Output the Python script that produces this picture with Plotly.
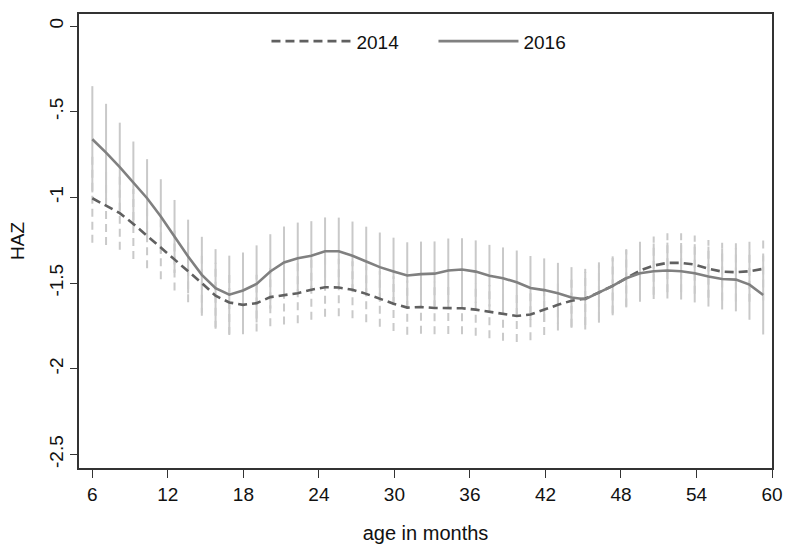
import plotly.graph_objects as go

ages = [6.00, 7.09, 8.18, 9.26, 10.35, 11.44, 12.53, 13.61, 14.70, 15.79,
        16.88, 17.97, 19.05, 20.14, 21.23, 22.32, 23.40, 24.49, 25.58, 26.67,
        27.76, 28.84, 29.93, 31.02, 32.11, 33.19, 34.28, 35.37, 36.46, 37.55,
        38.63, 39.72, 40.81, 41.90, 42.99, 44.07, 45.16, 46.25, 47.34, 48.42,
        49.51, 50.60, 51.69, 52.78, 53.86, 54.95, 56.04, 57.13, 58.21, 59.30]

haz_2014 = [-1.005, -1.050, -1.092, -1.155, -1.224, -1.296, -1.364, -1.432, -1.500, -1.574,
            -1.613, -1.627, -1.617, -1.582, -1.570, -1.559, -1.539, -1.524, -1.526, -1.539,
            -1.563, -1.592, -1.620, -1.643, -1.640, -1.645, -1.645, -1.647, -1.655, -1.667,
            -1.679, -1.692, -1.683, -1.653, -1.627, -1.603, -1.590, -1.555, -1.516, -1.472,
            -1.427, -1.398, -1.382, -1.382, -1.392, -1.417, -1.433, -1.437, -1.431, -1.417]

haz_2016 = [-0.661, -0.739, -0.824, -0.914, -1.005, -1.112, -1.228, -1.345, -1.452, -1.530,
            -1.568, -1.543, -1.505, -1.432, -1.380, -1.355, -1.341, -1.314, -1.314, -1.341,
            -1.374, -1.407, -1.432, -1.456, -1.448, -1.445, -1.427, -1.421, -1.433, -1.457,
            -1.472, -1.495, -1.529, -1.541, -1.560, -1.584, -1.594, -1.555, -1.516, -1.472,
            -1.443, -1.431, -1.427, -1.431, -1.443, -1.462, -1.476, -1.480, -1.509, -1.570]

ci_half_2014 = [0.260, 0.228, 0.214, 0.204, 0.190, 0.182, 0.180, 0.180, 0.190, 0.193,
                0.190, 0.172, 0.165, 0.170, 0.172, 0.175, 0.175, 0.172, 0.168, 0.166,
                0.165, 0.163, 0.160, 0.158, 0.155, 0.153, 0.152, 0.152, 0.153, 0.155,
                0.157, 0.152, 0.150, 0.150, 0.150, 0.152, 0.155, 0.160, 0.162, 0.165,
                0.168, 0.170, 0.172, 0.172, 0.170, 0.168, 0.168, 0.170, 0.178, 0.185]

ci_half_2016 = [0.310, 0.285, 0.260, 0.240, 0.228, 0.218, 0.213, 0.215, 0.222, 0.228,
                0.228, 0.222, 0.225, 0.217, 0.210, 0.208, 0.202, 0.197, 0.196, 0.200,
                0.203, 0.202, 0.197, 0.194, 0.190, 0.188, 0.187, 0.183, 0.182, 0.180,
                0.180, 0.185, 0.187, 0.185, 0.178, 0.177, 0.177, 0.176, 0.172, 0.170,
                0.166, 0.162, 0.163, 0.165, 0.170, 0.175, 0.178, 0.185, 0.205, 0.230]

x_ticks = [6, 12, 18, 24, 30, 36, 42, 48, 54, 60]
y_ticks = [0, -0.5, -1, -1.5, -2, -2.5]
y_tick_labels = ["0", "-.5", "-1", "-1.5", "-2", "-2.5"]

FONT = "Liberation Sans, Arial, sans-serif"


def spikes(xs, means, halves):
    bx, by = [], []
    for x, m, h in zip(xs, means, halves):
        bx += [x, x, None]
        by += [m - h, m + h, None]
    return bx, by


fig = go.Figure()

bx14, by14 = spikes(ages, haz_2014, ci_half_2014)
fig.add_trace(go.Scatter(x=bx14, y=by14, mode="lines", showlegend=False,
                         line=dict(color="#c9c9c9", width=2, dash="8px,5px"),
                         hoverinfo="skip"))
bx16, by16 = spikes(ages, haz_2016, ci_half_2016)
fig.add_trace(go.Scatter(x=bx16, y=by16, mode="lines", showlegend=False,
                         line=dict(color="#c9c9c9", width=2),
                         hoverinfo="skip"))

fig.add_trace(go.Scatter(x=ages, y=haz_2014, mode="lines", name="2014",
                         line=dict(color="#606060", width=2.6, dash="9px,5px")))
fig.add_trace(go.Scatter(x=ages, y=haz_2016, mode="lines", name="2016",
                         line=dict(color="#808080", width=2.6)))

fig.update_layout(
    width=785, height=544,
    margin=dict(l=79, r=13, t=14, b=76, autoexpand=False),
    paper_bgcolor="white", plot_bgcolor="white",
    font=dict(family=FONT, size=18, color="#111"),
    legend=dict(orientation="h", x=0.5115, xanchor="center", y=0.94, yanchor="middle",
                bgcolor="rgba(0,0,0,0)", font=dict(size=19), itemwidth=80,
                entrywidth=72, traceorder="normal"),
    xaxis=dict(range=[4.94, 60], tickvals=x_ticks, ticks="outside", ticklen=8,
               tickwidth=1.3, tickcolor="#333", showline=True, linecolor="#333",
               linewidth=1.6, mirror=True, showgrid=False, zeroline=False,
               automargin=False, tickfont=dict(size=19),
               title=dict(text="age in months", font=dict(size=20), standoff=26)),
    yaxis=dict(range=[-2.579, 0.07], tickvals=y_ticks, ticktext=y_tick_labels,
               tickangle=-90, ticks="outside", ticklen=7, tickwidth=1.3,
               tickcolor="#333", showline=True, linecolor="#333", linewidth=1.6,
               mirror=True, showgrid=False, zeroline=False, automargin=False,
               tickfont=dict(size=19),
               title=dict(text="HAZ", font=dict(size=19), standoff=16)),
)

fig.write_html("out.html")
